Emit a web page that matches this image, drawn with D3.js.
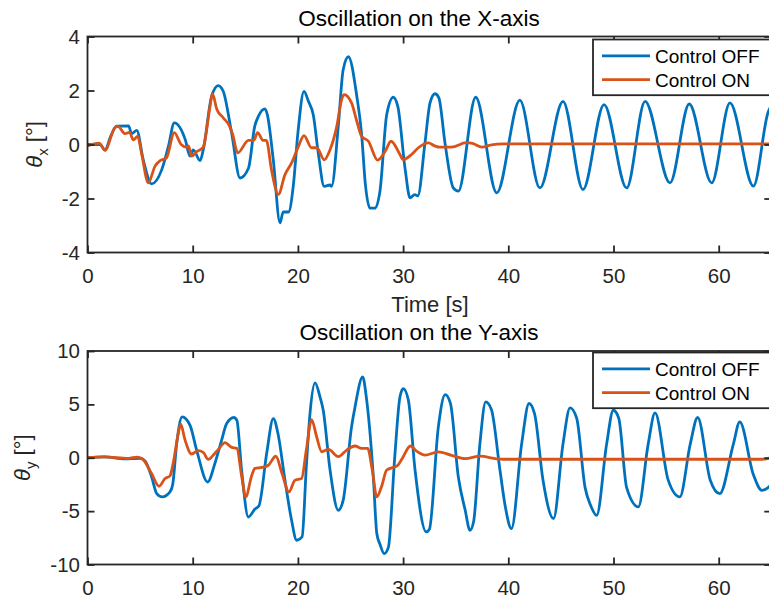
<!DOCTYPE html>
<html><head><meta charset="utf-8">
<script src="https://cdn.jsdelivr.net/npm/d3@7"></script>
<style>
body{margin:0;background:#fff}
svg{display:block;font-family:"Liberation Sans",Arial,Helvetica,sans-serif}
</style></head><body>
<svg id="chart" width="769" height="600"></svg>
<script>
// two stacked oscillation panels (θx, θy), control off vs on
const seriesNames = ['Control OFF', 'Control ON'];
const seriesColors = ['#0072BD', '#D95319'];
const xTicks = [0, 10, 20, 30, 40, 50, 60];
const xTopTicks = [-4, -2, 0, 2, 4];
const yBotTicks = [-10, -5, 0, 5, 10];

// [time s, angle deg]
const xOff = [[0,0],[1.2,0],[1.66,-0.21],[2.2,0.3],[2.77,0.68],[3.9,0.69],[4.2,0.4],[4.68,0.52],[5.3,-0.57],[6.1,-1.46],
  [7.05,-0.94],[7.7,-0.05],[8.25,0.8],[9.3,0.17],[9.74,-0.43],[10.05,-0.2],[10.7,-0.6],[11.0,-0.2],[11.8,1.79],[12.43,2.18],
  [12.9,1.97],[13.7,0.43],[14.5,-1.24],[15.3,-0.88],[15.9,0.68],[16.25,1.05],[16.87,1.32],[17.1,1.1],[17.66,-0.57],[18.3,-2.9],
  [18.6,-2.5],[19.1,-2.5],[19.56,-1.54],[20.0,0.43],[20.58,1.97],[21.0,1.6],[21.46,1.1],[21.94,-0.33],[22.5,-1.55],[23.07,-1.5],
  [23.2,-1.55],[23.84,0.68],[24.3,2.76],[24.8,3.25],[25.6,1.79],[26.06,0.37],[26.4,-1.42],[26.85,-2.36],[27.3,-2.36],[27.8,-1.73],
  [28.44,1.1],[29.07,1.75],[29.5,1.4],[30.2,-0.93],[30.66,-1.98],[31.1,-1.86],[31.4,-1.9],[32.08,0.06],[32.56,1.54],[33.03,1.88],
  [33.4,1.73],[33.98,0.06],[34.77,-1.61],[35.25,-1.73],[36.9,1.75],[38.9,-1.79],[41.1,1.64],[43.0,-1.61],[45.2,1.6],[47.1,-1.67],
  [49.1,1.48],[51.25,-1.61],[53.0,1.6],[55.37,-1.42],[57.2,1.5],[59.33,-1.42],[61.07,1.54],[63.3,-1.54],[64.7,1.2],[65,1.45]];
const xOn = [[0,-0.05],[1.1,0.05],[1.66,-0.21],[2.6,0.62],[2.9,0.67],[3.56,0.4],[4.0,0.45],[4.35,0.17],[4.77,0.3],[5.15,-0.35],
  [5.78,-1.42],[6.42,-0.8],[6.9,-0.6],[7.5,-0.5],[8.25,0.44],[8.9,0],[9.43,-0.1],[9.6,-0.05],[9.9,-0.43],[10.4,-0.26],[11.0,-0.1],
  [11.65,1.42],[11.87,1.88],[12.3,1.3],[12.9,0.99],[13.5,0.68],[13.8,0.37],[14.28,-0.31],[15.3,0.15],[15.8,0.15],[16.17,0.44],
  [16.7,0.15],[17.0,0.15],[17.5,-0.96],[18.14,-1.85],[18.77,-1.12],[19.4,-0.68],[20.0,-0.12],[20.58,0.33],[21.3,-0.12],[21.8,-0.12],
  [22.5,-0.57],[23.05,-0.2],[23.7,0.68],[24.16,1.67],[24.4,1.85],[25.1,1.54],[25.6,0.86],[26.06,0.3],[26.7,0.12],[27.58,-0.58],
  [28.3,-0.25],[28.85,0.12],[29.7,-0.37],[30.0,-0.56],[30.8,-0.37],[31.45,-0.12],[32.4,0.06],[33.0,-0.05],[33.5,-0.1],[34.6,-0.1],
  [36.0,0.07],[36.6,0.04],[37.5,-0.1],[38.4,-0.01],[39.5,0.02],[65,0.02]];
const yOff = [[0,0],[1.6,0.08],[3.56,-0.1],[5.0,-0.05],[5.47,-0.3],[6.1,-1.8],[6.58,-3.36],[7.1,-3.67],[7.84,-3.2],[8.1,-2.5],
  [8.48,1.33],[9.0,3.83],[9.74,3.05],[10.38,0.7],[11.42,-2.27],[12.12,-0.5],[12.75,1.65],[13.23,3.2],[13.92,3.77],[14.2,3.5],
  [14.65,-1.17],[15.29,-5.55],[15.92,-4.8],[16.3,-4.5],[17.03,0.4],[17.66,3.67],[18.1,2.3],[18.77,-2.1],[19.4,-5.86],[19.88,-7.73],
  [20.4,-7.4],[20.8,-0.84],[21.15,4.14],[21.63,7.01],[22.1,5.7],[22.4,4.5],[23.05,-1.1],[23.84,-4.92],[24.3,-4.0],[25.1,2.89],
  [25.43,4.76],[26.16,7.58],[26.5,5.7],[27.17,-1.8],[27.5,-7.1],[27.8,-8.1],[28.2,-8.98],[28.6,-8.4],[29.2,0],[29.7,5.7],
  [30.02,6.48],[30.5,5.4],[31.13,-1.1],[32.2,-6.95],[32.5,-6.7],[33.35,2.89],[34.0,5.92],[34.5,5.1],[35.25,-1.8],[35.9,-4.9],
  [36.36,-6.8],[36.7,-6.0],[37.3,1.3],[37.85,5.23],[38.4,4.5],[39.2,-1.1],[39.7,-4.5],[40.3,-6.64],[41.27,1.3],[41.97,5.08],
  [42.5,4.1],[43.3,-2.1],[44.3,-5.7],[45.2,1.3],[45.87,4.67],[46.5,3.7],[47.3,-2.8],[47.8,-4.4],[48.4,-5.39],[49.35,1.3],
  [49.98,4.45],[50.5,3.7],[51.25,-2.8],[52.36,-4.6],[53.3,1.3],[53.95,4.2],[55.2,-2.1],[56.3,-3.67],[57.3,1.3],[58.0,3.77],
  [59.2,-2.1],[60.1,-3.36],[61.4,1.3],[62.0,3.36],[63.3,-1.6],[64.1,-3.05],[64.7,-2.8],[65,-2.5]];
const yOn = [[0,0],[1.6,0.08],[3.9,-0.05],[4.7,0.05],[5.2,-0.1],[6.1,-1.5],[6.8,-2.67],[7.37,-1.95],[7.84,-1.7],[8.15,-0.5],
  [8.63,2.3],[8.86,3.14],[9.27,1.67],[9.9,0.35],[10.5,0.66],[11.0,0.5],[11.48,-0.15],[11.96,0.25],[12.44,0.78],[13.07,1.42],
  [13.7,0.97],[14.2,0.88],[14.65,-1.7],[15.04,-3.67],[15.6,-1.7],[15.92,-1.0],[16.56,-0.9],[17.19,-0.7],[17.9,0.14],[18.5,-1.5],
  [19.15,-3.2],[19.72,-2.1],[20.35,-1.95],[20.8,0.72],[21.3,3.58],[21.78,1.97],[22.26,0.56],[22.9,0.78],[23.84,0.1],[24.64,0.72],
  [25.43,1.1],[26.06,0.88],[26.63,0.88],[27.07,-1.15],[27.5,-3.67],[27.95,-2.7],[28.44,-1.15],[29.23,-0.84],[29.5,-0.7],[29.9,-0.1],
  [30.7,1.1],[31.3,0.6],[32.08,0.25],[33.35,0.55],[34.6,0.23],[35.9,-0.08],[37.3,0.15],[38.9,-0.1],[39.5,-0.14],[64,-0.14],[65,0]];

const AX = '#262626';
const svg = d3.select('#chart');
const x = d3.scaleLinear().domain([0, 65]).range([87.5, 771.3]);

const panels = [
  { id: 'px', top: 36.5, bottom: 252.5, dom: [-4, 4], ticks: xTopTicks, data: [xOff, xOn],
    title: 'Oscillation on the X-axis', titleY: 26, sub: 'x', labX: 42, legTop: 39.5, xlabel: 'Time [s]' },
  { id: 'py', top: 351, bottom: 564.5, dom: [-10, 10], ticks: yBotTicks, data: [yOff, yOn],
    title: 'Oscillation on the Y-axis', titleY: 340, sub: 'y', labX: 30, legTop: 352.5 }
];

panels.forEach(p => {
  const y = d3.scaleLinear().domain(p.dom).range([p.bottom, p.top]);
  const g = svg.append('g');
  const w = x.range()[1] - x.range()[0], h = p.bottom - p.top;

  svg.append('clipPath').attr('id', 'clip-' + p.id)
    .append('rect').attr('x', x.range()[0]).attr('y', p.top).attr('width', w).attr('height', h);

  const line = d3.line().x(d => x(d[0])).y(d => y(d[1])).curve(d3.curveMonotoneX);
  g.append('g').attr('clip-path', `url(#clip-${p.id})`)
    .selectAll('path').data(p.data).join('path')
    .attr('d', line).attr('fill', 'none')
    .attr('stroke', (d, i) => seriesColors[i]).attr('stroke-width', 2.8)
    .attr('stroke-linejoin', 'round');

  const styleAxis = sel => {
    sel.select('.domain').remove();
    sel.selectAll('line').attr('stroke', AX).attr('stroke-width', 1.8);
    sel.selectAll('text').attr('fill', AX).attr('font-size', 20.5);
  };
  g.append('g').attr('transform', `translate(0,${p.bottom})`)
    .call(d3.axisBottom(x).tickValues(xTicks).tickSize(-7).tickFormat(d => String(d)))
    .call(styleAxis)
    .call(a => a.selectAll('text').attr('y', 30.5).attr('dy', null));
  g.append('g').attr('transform', `translate(0,${p.top})`)
    .call(d3.axisTop(x).tickValues(xTicks).tickSize(-7).tickFormat(''))
    .call(styleAxis);
  g.append('g').attr('transform', `translate(${x.range()[0]},0)`)
    .call(d3.axisLeft(y).tickValues(p.ticks).tickSize(-7).tickPadding(7.5).tickFormat(d => String(d)))
    .call(styleAxis);
  g.append('g').attr('transform', `translate(${x.range()[1]},0)`)
    .call(d3.axisRight(y).tickValues(p.ticks).tickSize(-7).tickFormat(''))
    .call(styleAxis);

  g.append('rect').attr('x', x.range()[0]).attr('y', p.top).attr('width', w).attr('height', h)
    .attr('fill', 'none').attr('stroke', AX).attr('stroke-width', 1.8);

  g.append('text').attr('x', 419).attr('y', p.titleY).attr('text-anchor', 'middle')
    .attr('font-size', 22.5).attr('fill', '#000').text(p.title);

  if (p.xlabel) g.append('text').attr('x', 430).attr('y', 311.5).attr('text-anchor', 'middle')
    .attr('font-size', 22).attr('fill', AX).text(p.xlabel);

  const yl = g.append('text')
    .attr('transform', `translate(${p.labX},${(p.top + p.bottom) / 2}) rotate(-90)`)
    .attr('text-anchor', 'middle').attr('font-size', 22).attr('fill', AX);
  yl.append('tspan').attr('font-style', 'italic').text('θ');
  yl.append('tspan').attr('font-size', 15).attr('dy', 6).text(p.sub);
  yl.append('tspan').attr('dy', -6).text(' [°]');

  // legend, north-east
  const lg = g.append('g').attr('transform', `translate(593,${p.legTop})`);
  lg.append('rect').attr('width', 182).attr('height', 55.7)
    .attr('fill', '#fff').attr('stroke', AX).attr('stroke-width', 1.8);
  seriesNames.forEach((name, i) => {
    lg.append('line').attr('x1', 9).attr('x2', 57)
      .attr('y1', 16.3 + i * 23.8).attr('y2', 16.3 + i * 23.8)
      .attr('stroke', seriesColors[i]).attr('stroke-width', 2.8);
    lg.append('text').attr('x', 62).attr('y', 23 + i * 24.2)
      .attr('font-size', 19).attr('fill', '#000').text(name);
  });
});
</script>
</body></html>
